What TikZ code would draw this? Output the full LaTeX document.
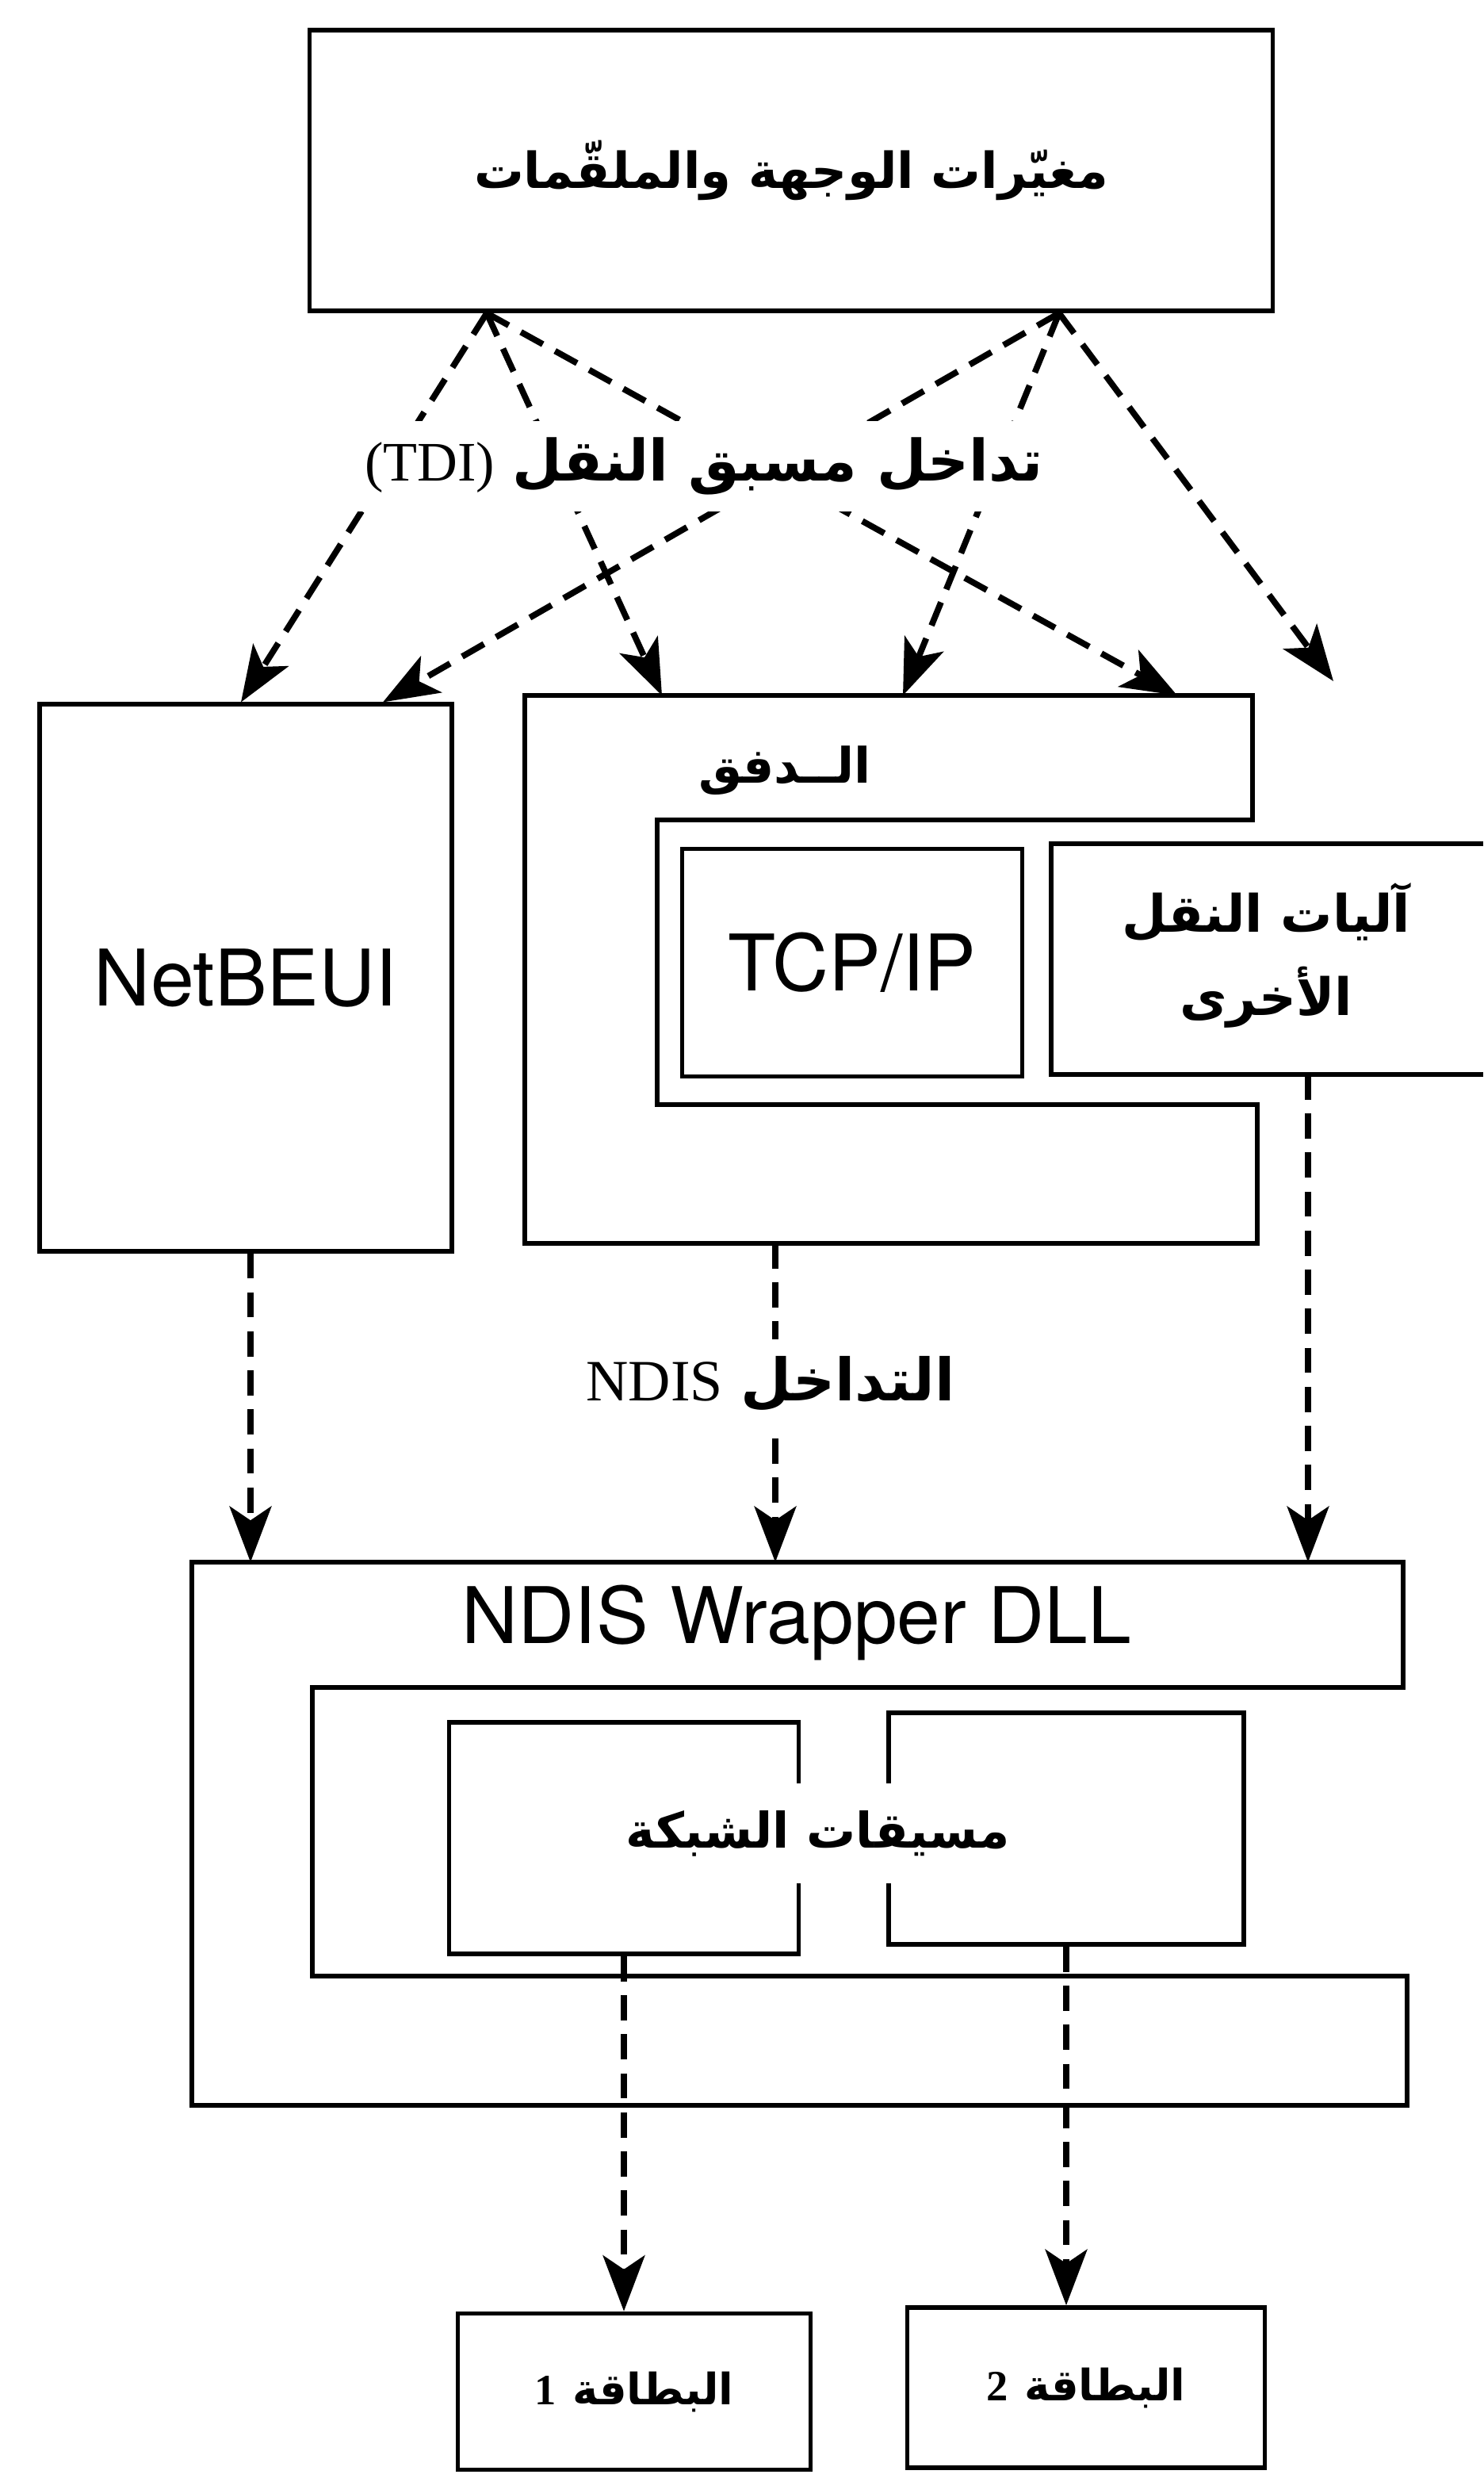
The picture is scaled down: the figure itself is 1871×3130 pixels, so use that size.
\documentclass[tikz,border=0pt]{standalone}
\usepackage{fontspec}
\usetikzlibrary{arrows.meta}
\TeXXeTstate=1
\newfontfamily\arabicfont[Script=Arabic]{DejaVu Sans}
\newfontfamily\helv{TeX Gyre Heros}
\newfontfamily\serif{Liberation Serif}
\newcommand{\artext}[1]{{\arabicfont\bfseries\beginR #1\endR}}

\begin{document}
\begin{tikzpicture}[
  x=0.01cm, y=-0.01cm,
  box/.style={draw, line width=1.6pt, inner sep=0pt},
  wall/.style={line width=1.6pt, line join=miter},
  flow/.style={-{Stealth[length=20pt,width=15pt,inset=5pt]}, line width=2.2pt, dash pattern=on 9pt off 5pt},
  lbl/.style={fill=white, inner sep=6pt},
  latin/.style={font=\helv\fontsize{28}{32}\selectfont},
]
\useasboundingbox (0,0) rectangle (1871,3130);

% top layer
\node[box, minimum width=12.14cm, minimum height=3.54cm, font=\fontsize{17.8}{24}\selectfont] (mgr) at (998,215) {\artext{مغيّرات الوجهة والملقّمات}};

% transports
\node[box, minimum width=5.2cm, minimum height=6.89cm, latin] (nbu) at (310,1233) {NetBEUI};
\draw[wall] (662,877) coordinate (st-nw) -- (1580,877) -- (1580,1034) -- (829,1034) -- (829,1393)
  -- (1586,1393) -- (1586,1568) -- (662,1568) coordinate (st-sw) -- cycle;
\node[font=\fontsize{17.5}{24}\selectfont] (dafq) at (990,972) {\artext{الــدفق}};
\node[box, minimum width=4.29cm, minimum height=2.87cm, latin] (tcp) at (1075,1214) {TCP/IP};
\draw[wall] (1871,1064) -- (1326,1064) coordinate (ot-nw) -- (1326,1355) coordinate (ot-sw) -- (1871,1355);
\node[align=center, font=\fontsize{18.5}{30}\selectfont] (others) at (1597,1205) {\artext{آليات النقل}\\\artext{الأخرى}};
\coordinate (loose) at (1682,859);

\draw[flow] (614,0 |- mgr.south) -- (304,0 |- nbu.north);
\draw[flow] (614,0 |- mgr.south) -- (835,0 |- st-nw);
\draw[flow] (614,0 |- mgr.south) -- (1485,0 |- st-nw);
\draw[flow] (1336,0 |- mgr.south) -- (483,0 |- nbu.north);
\draw[flow] (1336,0 |- mgr.south) -- (1139,0 |- st-nw);
\draw[flow] (1336,0 |- mgr.south) -- (loose);
\node[lbl, font=\fontsize{20.5}{28}\selectfont] (tdi) at (888,588) {{\serif\fontsize{20}{24}\selectfont\beginL(TDI)\endL} \artext{تداخل مسبق النقل}};

% NDIS wrapper
\draw[wall] (242,1970) coordinate (wr-nw) -- (1770,1970) -- (1770,2128) -- (394,2128) -- (394,2492)
  -- (1775,2492) -- (1775,2655) -- (242,2655) -- cycle;
\node[latin] (wrap) at (1005,2046) {NDIS Wrapper DLL};

\draw[flow] (316,0 |- nbu.south) -- (316,0 |- wr-nw);
\draw[flow] (978,0 |- st-sw) -- (978,0 |- wr-nw);
\draw[flow] (1650,0 |- ot-sw) -- (1650,0 |- wr-nw);
\node[lbl, font=\fontsize{21}{26}\selectfont] (ndis) at (972,1745) {{\serif\fontsize{21}{24}\selectfont NDIS} \artext{التداخل}};

% drivers and cards
\node[box, minimum width=4.41cm, minimum height=2.92cm] (drv1) at (787,2318) {};
\node[box, minimum width=4.48cm, minimum height=2.92cm] (drv2) at (1345,2306) {};
\node[lbl, minimum height=1.25cm, font=\fontsize{17.6}{26}\selectfont] (drvtxt) at (1032,2312) {\artext{مسيقات الشبكة}};

\node[box, minimum width=4.45cm, minimum height=1.97cm, font=\bfseries\fontsize{15.5}{22}\selectfont] (card1) at (800,3016) {{\serif 1} \artext{البطاقة}};
\node[box, minimum width=4.51cm, minimum height=2.02cm, font=\bfseries\fontsize{15.5}{22}\selectfont] (card2) at (1370,3011) {{\serif 2} \artext{البطاقة}};

\draw[flow] (drv1.south) -- (drv1.south |- card1.north);
\draw[flow] (drv2.south) -- (drv2.south |- card2.north);
\end{tikzpicture}
\end{document}
